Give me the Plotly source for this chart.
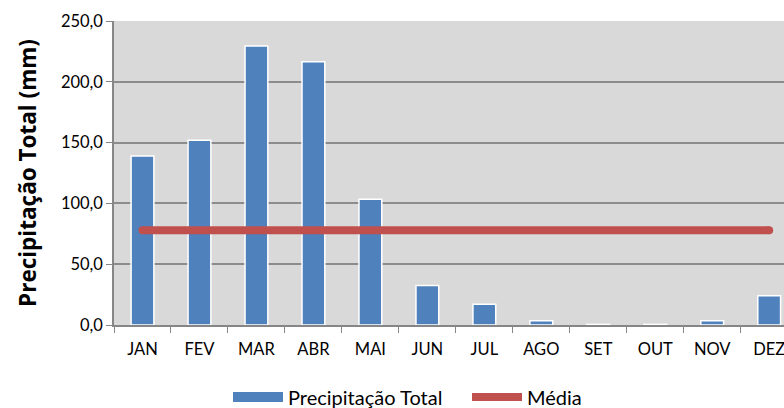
import plotly.graph_objects as go

months = ["JAN", "FEV", "MAR", "ABR", "MAI", "JUN", "JUL", "AGO", "SET", "OUT", "NOV", "DEZ"]
precip = [139.0, 152.0, 229.5, 216.5, 103.5, 32.5, 17.0, 3.5, 0.5, 0.5, 3.5, 24.0]
media = [78.0] * 12
yticks = [0, 50, 100, 150, 200, 250]

BLUE = "#4F81BD"
RED = "#C0504D"
FONT = "Lato"

fig = go.Figure()

# monthly totals
fig.add_trace(go.Bar(
    x=months, y=precip, width=0.4,
    marker=dict(color=BLUE, line=dict(color="white", width=1.5)),
    showlegend=False,
))

# mean line with rounded ends
fig.add_trace(go.Scatter(
    x=months, y=media, mode="lines",
    line=dict(color=RED, width=8),
    showlegend=False,
))
fig.add_trace(go.Scatter(
    x=[months[0], months[-1]], y=[media[0], media[-1]], mode="markers",
    marker=dict(color=RED, size=8, line=dict(width=0)),
    showlegend=False,
))

# legend entries
fig.add_trace(go.Scatter(
    x=[None], y=[None], mode="lines", name="Precipitação Total",
    line=dict(color=BLUE, width=10),
))
fig.add_trace(go.Scatter(
    x=[None], y=[None], mode="lines", name="Média",
    line=dict(color=RED, width=8),
))

fig.update_layout(
    width=784, height=408,
    margin=dict(l=113.5, r=0, t=21, b=83, autoexpand=False),
    paper_bgcolor="white",
    plot_bgcolor="#D9D9D9",
    font=dict(family=FONT, size=16.5, color="black"),
    legend=dict(
        orientation="h", xref="container", x=228 / 784, xanchor="left",
        yref="container", y=0.027, yanchor="middle",
        font=dict(size=20, family=FONT), itemwidth=50,
        entrywidth=174, entrywidthmode="pixels",
        bgcolor="rgba(0,0,0,0)", traceorder="normal",
    ),
    bargap=0.6,
)

fig.update_xaxes(
    type="category", range=[-0.5, 11.26], automargin=False,
    showline=True, linecolor="#868686", linewidth=1.5,
    ticks="outside", tickson="boundaries", ticklen=6, tickcolor="#868686",
    ticklabelstandoff=8,
    tickfont=dict(size=16.5, family=FONT), showgrid=False,
)
fig.update_yaxes(
    range=[0, 250], tickvals=yticks, automargin=False,
    ticktext=[f"{v:.1f}".replace(".", ",") for v in yticks],
    showline=True, linecolor="#868686", linewidth=1.5,
    ticks="outside", ticklen=6, tickcolor="#868686",
    gridcolor="#8C8C8C", gridwidth=2,
    tickfont=dict(size=16.5, family=FONT),
    title=dict(text="<b>Precipitação Total (mm)</b>",
               font=dict(size=22.5, family="Open Sans"), standoff=18),
    zeroline=False,
)

fig.write_html("out.html")
